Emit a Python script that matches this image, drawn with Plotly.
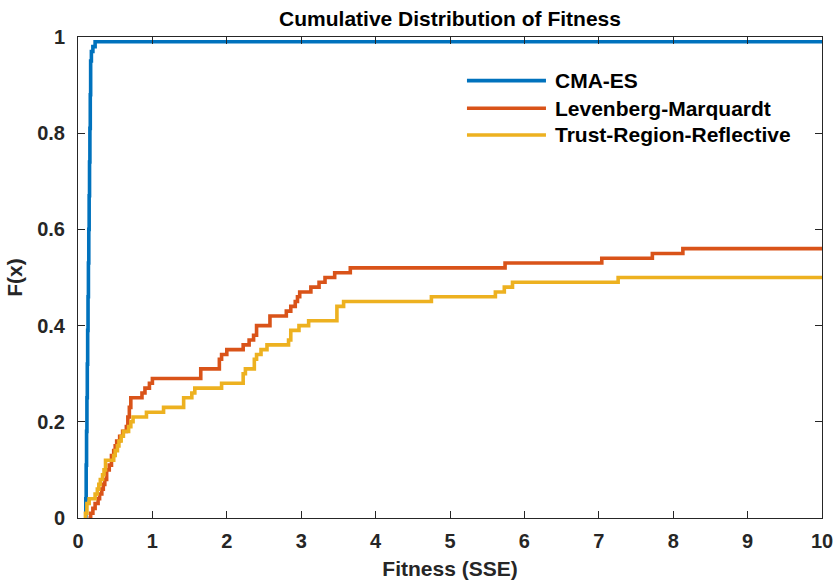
import plotly.graph_objects as go

# ---- data ----
series_names = ["CMA-ES", "Levenberg-Marquardt", "Trust-Region-Reflective"]
series_colors = ["#0072BD", "#D95319", "#EDB120"]

cma_x = [0.10, 0.105, 0.11, 0.115, 0.12, 0.125, 0.13, 0.135, 0.14, 0.145, 0.15,
         0.155, 0.16, 0.165, 0.17, 0.18, 0.20, 0.23, 10.0]
cma_y = [0.00, 0.04, 0.11, 0.18, 0.25, 0.32, 0.39, 0.46, 0.53, 0.60, 0.67,
         0.74, 0.81, 0.88, 0.95, 0.97, 0.98, 0.99, 0.99]

lm_x = [0.14, 0.17, 0.20, 0.23, 0.27, 0.29, 0.32, 0.34, 0.36, 0.385, 0.42, 0.45,
        0.48, 0.50, 0.52, 0.56, 0.60, 0.65, 0.67, 0.69, 0.71, 0.86, 0.90, 0.96,
        1.00, 1.65, 1.90, 1.93, 2.00, 2.22, 2.30, 2.36, 2.40, 2.58, 2.80, 2.86,
        2.92, 2.95, 2.98, 3.13, 3.24, 3.32, 3.45, 3.66, 5.74, 7.04, 7.72, 8.13, 10.0]
lm_y = [0.00, 0.01, 0.02, 0.03, 0.04, 0.05, 0.06, 0.07, 0.08, 0.10, 0.11, 0.13,
        0.14, 0.15, 0.16, 0.17, 0.18, 0.19, 0.21, 0.23, 0.25, 0.26, 0.27, 0.28,
        0.29, 0.31, 0.33, 0.34, 0.35, 0.36, 0.37, 0.38, 0.40, 0.42, 0.43, 0.44,
        0.45, 0.46, 0.47, 0.48, 0.49, 0.50, 0.51, 0.52, 0.53, 0.54, 0.55, 0.56, 0.56]

trr_x = [0.09, 0.10, 0.12, 0.15, 0.23, 0.26, 0.28, 0.30, 0.33, 0.35, 0.37, 0.48,
         0.50, 0.53, 0.55, 0.58, 0.61, 0.68, 0.71, 0.74, 0.92, 1.15, 1.42, 1.53,
         1.57, 1.93, 2.22, 2.25, 2.37, 2.40, 2.46, 2.54, 2.83, 2.86, 2.97, 3.10,
         3.48, 3.57, 4.75, 5.61, 5.73, 5.84, 7.26, 10.0]
trr_y = [0.00, 0.01, 0.03, 0.04, 0.05, 0.06, 0.07, 0.08, 0.09, 0.10, 0.12, 0.13,
         0.14, 0.15, 0.16, 0.17, 0.18, 0.19, 0.20, 0.21, 0.22, 0.23, 0.25, 0.26,
         0.27, 0.28, 0.30, 0.31, 0.33, 0.34, 0.35, 0.36, 0.37, 0.39, 0.40, 0.41,
         0.44, 0.45, 0.46, 0.47, 0.48, 0.49, 0.50, 0.50]

x_ticks = [0, 1, 2, 3, 4, 5, 6, 7, 8, 9, 10]
y_ticks = [0, 0.2, 0.4, 0.6, 0.8, 1]
y_tick_text = ["0", "0.2", "0.4", "0.6", "0.8", "1"]

title_text = "Cumulative Distribution of Fitness"
x_label = "Fitness (SSE)"
y_label = "F(x)"

FONT = "Liberation Sans, Arial, Helvetica, sans-serif"
TXT = "#262626"
LW = 3.6

fig = go.Figure()
for name, color, xs, ys in zip(series_names, series_colors,
                               [cma_x, lm_x, trr_x], [cma_y, lm_y, trr_y]):
    fig.add_trace(go.Scatter(x=xs, y=ys, mode="lines", name=name,
                             line=dict(color=color, width=LW, shape="hv"),
                             showlegend=False))

# manual MATLAB-style legend (no box, long line samples)
leg_y = [0.9092, 0.8518, 0.7963]
for name, color, ly in zip(series_names, series_colors, leg_y):
    fig.add_shape(type="line", xref="paper", yref="paper",
                  x0=0.5228, x1=0.629, y0=ly, y1=ly,
                  line=dict(color=color, width=LW))
    fig.add_annotation(xref="paper", yref="paper", x=0.6384, y=ly,
                       xanchor="left", yanchor="middle", showarrow=False,
                       text="<b>%s</b>" % name,
                       font=dict(family=FONT, size=21, color="#000000"))

axis_common = dict(showline=True, linecolor=TXT, linewidth=1, mirror="ticks",
                   ticks="inside", ticklen=7, tickwidth=1, tickcolor=TXT,
                   showgrid=False, zeroline=False, automargin=False,
                   tickfont=dict(family=FONT, size=20, color=TXT))

fig.update_layout(
    width=838, height=583, autosize=False,
    margin=dict(l=78, r=16, t=37, b=65, autoexpand=False),
    paper_bgcolor="white", plot_bgcolor="white",
    title=dict(text="<b>%s</b>" % title_text, x=0.5, xref="paper",
               y=(583 - 19) / 583, yref="container", yanchor="middle",
               xanchor="center", automargin=False,
               font=dict(family=FONT, size=21, color="#000000")),
    xaxis=dict(range=[0, 10], tickvals=x_ticks,
               ticktext=["<b>%d</b>" % v for v in x_ticks],
               ticklabelstandoff=5,
               title=dict(text="<b>%s</b>" % x_label, standoff=10,
                          font=dict(family=FONT, size=21, color=TXT)),
               **axis_common),
    yaxis=dict(range=[0, 1], tickvals=y_ticks,
               ticktext=["<b>%s</b>" % t for t in y_tick_text],
               ticklabelstandoff=8,
               title=dict(text="<b>%s</b>" % y_label, standoff=8,
                          font=dict(family=FONT, size=21, color=TXT)),
               **axis_common),
)

fig.write_html("out.html")
